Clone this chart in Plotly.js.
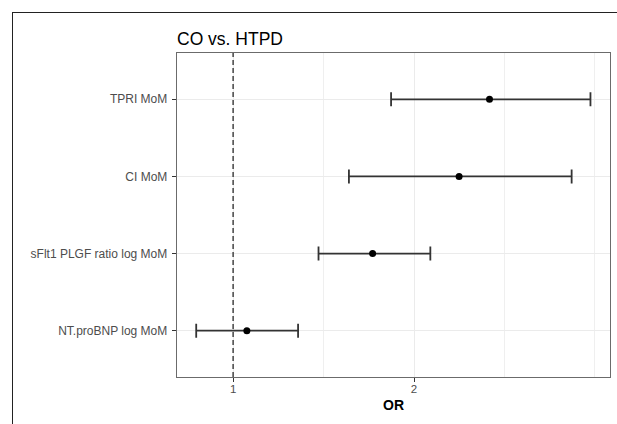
<!DOCTYPE html>
<html>
<head>
<meta charset="utf-8">
<script src="https://cdn.plot.ly/plotly-3.0.1.min.js"></script>
<style>
  html, body { margin: 0; padding: 0; background: #ffffff; overflow: hidden; width: 617px; height: 424px; }
  #wrap { position: relative; width: 617px; height: 424px; overflow: hidden; }
  #chart { position: absolute; left: 0; top: 0; width: 617px; height: 424px; }
  #frame { position: absolute; left: 12px; top: 12px; width: 800px; height: 600px;
           border-left: 1.6px solid #222222; border-top: 1.6px solid #222222; pointer-events: none; }
</style>
</head>
<body>
<div id="wrap">
  <div id="chart"></div>
  <div id="frame"></div>
</div>
<script>
// Data (top = first)
const categories = ["TPRI MoM", "CI MoM", "sFlt1 PLGF ratio log MoM", "NT.proBNP log MoM"];
const orValues   = [2.417, 2.249, 1.771, 1.076];
const ciLower    = [1.873, 1.640, 1.472, 0.796];
const ciUpper    = [2.975, 2.871, 2.090, 1.359];
const xTickVals  = [1, 2];
const xTickText  = ["1", "2"];
const nullOR = 1;

const plusErr  = orValues.map((v, i) => ciUpper[i] - v);
const minusErr = orValues.map((v, i) => v - ciLower[i]);

const FONT = "Liberation Sans, Arial, Helvetica, sans-serif";

const trace = {
  type: "scatter", mode: "markers",
  x: orValues, y: categories,
  marker: { color: "#000000", size: 7 },
  error_x: { type: "data", symmetric: false, array: plusErr, arrayminus: minusErr,
             color: "#333333", thickness: 1.8, width: 7 },
  showlegend: false
};

// plot area in pixels: x 177..610, y 53..377
const L = 177, R = 7, T = 53, B = 47, W = 617, H = 424;

const layout = {
  width: W, height: H,
  margin: { l: L, r: R, t: T, b: B, pad: 0 },
  paper_bgcolor: "rgba(255,255,255,0)", plot_bgcolor: "#ffffff",
  font: { family: FONT, size: 12, color: "#4d4d4d" },
  title: { text: "CO vs. HTPD", font: { family: FONT, size: 17.5, color: "#000000" },
           xref: "paper", x: 0, xanchor: "left", yref: "container", y: 1 - 39 / H, yanchor: "middle", pad: { l: 0 } },
  xaxis: {
    range: [0.6898, 3.083], tickmode: "array", tickvals: xTickVals, ticktext: xTickText,
    ticks: "outside", ticklen: 4, tickwidth: 1, tickcolor: "#333333", ticklabelstandoff: -3,
    tickfont: { family: FONT, size: 11.5, color: "#4d4d4d" },
    showgrid: true, gridcolor: "#ebebeb", gridwidth: 1,
    minor: { tickmode: "linear", tick0: 0.5, dtick: 0.5, showgrid: true, gridcolor: "#efefef", gridwidth: 1, ticks: "" },
    zeroline: false, showline: true, mirror: true, linecolor: "#6b6b6b", linewidth: 1.3,
    title: { text: "<b>OR</b>", font: { family: FONT, size: 14, color: "#000000" }, standoff: 6 },
    automargin: false, fixedrange: true
  },
  yaxis: {
    type: "category", categoryorder: "array", categoryarray: categories.slice().reverse(),
    range: [-0.6, 3.6], ticks: "outside", ticklen: 4, tickwidth: 1, tickcolor: "#333333", ticklabelstandoff: 2,
    tickfont: { family: FONT, size: 12, color: "#4d4d4d" },
    showgrid: true, gridcolor: "#ebebeb", gridwidth: 1.2, zeroline: false,
    showline: true, mirror: true, linecolor: "#6b6b6b", linewidth: 1.3, automargin: false, fixedrange: true
  },
  shapes: [
    { type: "line", xref: "x", yref: "paper", x0: nullOR, x1: nullOR, y0: 0, y1: 1,
      line: { color: "#444444", width: 1.5, dash: "5px,3px" }, layer: "above" }
  ]
};

Plotly.newPlot("chart", [trace], layout, { displayModeBar: false, staticPlot: true });
</script>
</body>
</html>
